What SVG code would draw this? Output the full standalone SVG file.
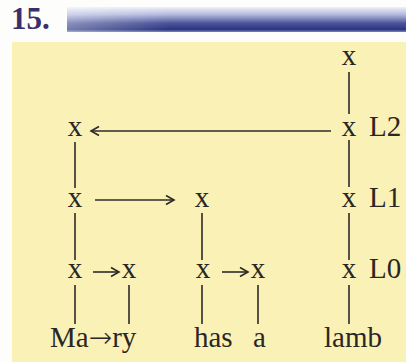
<svg xmlns="http://www.w3.org/2000/svg" width="406" height="362" viewBox="0 0 406 362">
<style>
.t{font-family:"Liberation Serif","Times New Roman",serif;font-size:29px;fill:#2a2624}
.c{text-anchor:middle}
.ln{stroke:#2e2a28;stroke-width:1.6;fill:none}
.h{font-family:"Liberation Serif","Times New Roman",serif;font-size:31px;font-weight:bold;fill:#3a2f6c}
.ar{font-family:"DejaVu Sans",sans-serif;font-size:28px;font-weight:200}
</style>
<defs>
<linearGradient id="bar" x1="0" y1="0" x2="0" y2="1">
<stop offset="0" stop-color="#eef0fa"/>
<stop offset="0.3" stop-color="#b4bade"/>
<stop offset="0.65" stop-color="#4a5598"/>
<stop offset="0.9" stop-color="#2c3682"/>
<stop offset="1" stop-color="#7a84bc"/>
</linearGradient>
<linearGradient id="fade" x1="0" y1="0" x2="1" y2="0">
<stop offset="0" stop-color="#ffffff" stop-opacity="0.35"/>
<stop offset="0.3" stop-color="#ffffff" stop-opacity="0"/>
</linearGradient>
<marker id="ah" markerUnits="userSpaceOnUse" markerWidth="12" markerHeight="12" refX="9" refY="5" orient="auto" viewBox="0 0 12 10">
<path d="M1,0.5 L9,5 L1,9.5" fill="none" stroke="#2e2a28" stroke-width="1.6"/>
</marker>
</defs>
<rect x="0" y="0" width="406" height="362" fill="#fdfdfb"/>
<g id="header">
<text class="h" x="11" y="29">15.</text>
<rect x="67" y="7" width="339" height="25" fill="url(#bar)"/>
<rect x="67" y="7" width="339" height="25" fill="url(#fade)"/>
</g>
<rect id="panel" x="12" y="42" width="394" height="320" fill="#f9f1b6"/>
<g id="connectors">
<line class="ln" x1="331" y1="131" x2="91" y2="131" marker-end="url(#ah)"/>
<line class="ln" x1="95" y1="200" x2="174" y2="200" marker-end="url(#ah)"/>
<line class="ln" x1="93" y1="272" x2="119" y2="272" marker-end="url(#ah)"/>
<line class="ln" x1="222" y1="272" x2="248" y2="272" marker-end="url(#ah)"/>
<line class="ln" x1="75" y1="142" x2="75" y2="188"/>
<line class="ln" x1="75" y1="213" x2="75" y2="260"/>
<line class="ln" x1="75" y1="285" x2="75" y2="324"/>
<line class="ln" x1="129" y1="285" x2="129" y2="324"/>
<line class="ln" x1="202" y1="213" x2="202" y2="260"/>
<line class="ln" x1="202" y1="285" x2="202" y2="324"/>
<line class="ln" x1="258" y1="285" x2="258" y2="324"/>
<line class="ln" x1="349" y1="72" x2="349" y2="114"/>
<line class="ln" x1="349" y1="140" x2="349" y2="187"/>
<line class="ln" x1="349" y1="213" x2="349" y2="260"/>
<line class="ln" x1="349" y1="285" x2="349" y2="324"/>
</g>
<g id="n-top"><text class="t c" x="349" y="65">x</text></g>
<g id="n-L2-left"><text class="t c" x="75" y="136">x</text></g>
<g id="n-L2-right"><text class="t c" x="349" y="136">x</text><text class="t" x="369" y="136">L2</text></g>
<g id="n-L1-left"><text class="t c" x="75" y="207">x</text></g>
<g id="n-L1-mid"><text class="t c" x="202" y="207">x</text></g>
<g id="n-L1-right"><text class="t c" x="349" y="207">x</text><text class="t" x="369" y="207">L1</text></g>
<g id="n-L0-1"><text class="t c" x="75" y="278">x</text></g>
<g id="n-L0-2"><text class="t c" x="129" y="278">x</text></g>
<g id="n-L0-3"><text class="t c" x="203" y="278">x</text></g>
<g id="n-L0-4"><text class="t c" x="258" y="278">x</text></g>
<g id="n-L0-right"><text class="t c" x="349" y="278">x</text><text class="t" x="369" y="278">L0</text></g>
<g id="w-mary"><text class="t" x="50" y="347">Ma<tspan class="ar">→</tspan>ry</text></g>
<g id="w-has"><text class="t" x="194" y="347">has</text></g>
<g id="w-a"><text class="t" x="253" y="347">a</text></g>
<g id="w-lamb"><text class="t" x="324" y="347">lamb</text></g>
</svg>
